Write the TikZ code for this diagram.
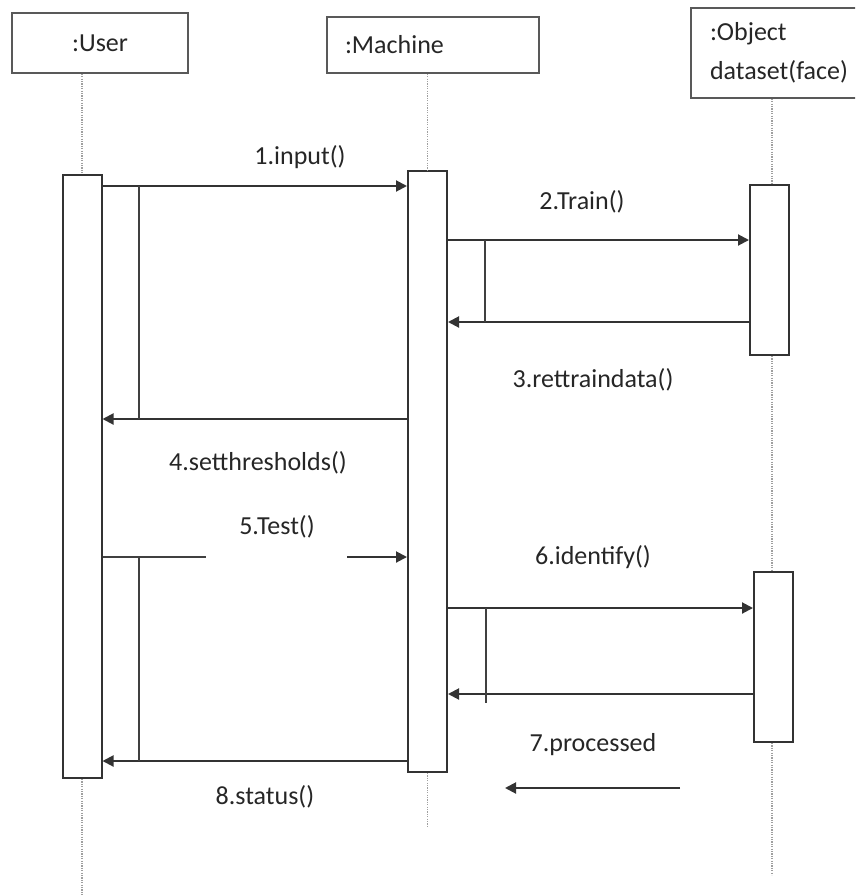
\documentclass[tikz,border=0pt]{standalone}
\usepackage{fontspec}
\setmainfont{Carlito}
\usetikzlibrary{arrows.meta}

\begin{document}
\begin{tikzpicture}[
        x=1pt, y=-1pt,
        head/.style={rectangle, draw=black!65, line width=1.6pt, inner sep=0pt, text=black!85, font=\fontsize{26}{39}\selectfont},
        act/.style={rectangle, draw=black!80, line width=2pt, fill=white, minimum width=39, inner sep=0pt},
        life/.style={draw=gray!75, line width=1.8pt, dash pattern=on 1.2pt off 1.2pt},
        msg/.style={draw=black!80, line width=2pt, -{Triangle[length=11pt, width=11pt]}},
        bar/.style={draw=black!75, line width=1.8pt},
        lbl/.style={inner sep=0pt, text=black!85, font=\fontsize{26}{39}\selectfont}
    ]
    \clip (0,0) rectangle (855,895);

    % Objects
    \node[head, minimum width=176, minimum height=60] (user) at (100,43) {:User};
    \node[head, text width=176, inner xsep=18, align=left, minimum height=56] (machine) at (433,45) {:Machine};
    \node[head, text width=141, inner xsep=19, align=left, minimum height=90] (object) at (780.5,53) {:Object\\dataset(face)};

    % Activations
    \node[act, minimum height=603] (uact) at (82,476.5) {};
    \node[act, minimum height=601] (mact) at (427.5,471.5) {};
    \node[act, minimum height=170] (oact1) at (769.5,270) {};
    \node[act, minimum height=170] (oact2) at (773.5,657) {};

    % Lifelines
    \draw[life] (user.south -| uact.center) -- (uact.north);
    \draw[life] (uact.south) -- (uact.center |- 0,895);
    \draw[life] (machine.south -| mact.center) -- (mact.north);
    \draw[life] (mact.south) -- (mact.center |- 0,828);
    \draw[life] (object.south -| 772,0) -- (oact1.north -| 772,0);
    \draw[life] (oact1.south -| 772,0) -- (oact2.north -| 772,0);
    \draw[life] (oact2.south -| 772,0) -- (772,875);

    % Free ends
    \coordinate (testcut1) at (206,557);
    \coordinate (testcut2) at (347,557);
    \coordinate (procstart) at (680,788);
    \coordinate (procend) at (505,788);

    % Messages
    \draw[msg] (uact.east |- 0,186) -- (mact.west |- 0,186);
    \draw[msg] (mact.east |- 0,240) -- (oact1.west |- 0,240);
    \draw[msg] (oact1.west |- 0,322) -- (mact.east |- 0,322);
    \draw[msg] (mact.west |- 0,419) -- (uact.east |- 0,419);
    \draw[bar] (uact.east |- 0,557) -- (testcut1);
    \draw[msg] (testcut2) -- (mact.west |- 0,557);
    \draw[msg] (mact.east |- 0,608) -- (oact2.west |- 0,608);
    \draw[msg] (oact2.west |- 0,694) -- (mact.east |- 0,694);
    \draw[msg] (procstart) -- (procend);
    \draw[msg] (mact.west |- 0,761) -- (uact.east |- 0,761);

    % Bars between call and reply
    \draw[bar] (139,186) -- (139,419);
    \draw[bar] (485,240) -- (485,322);
    \draw[bar] (139,557) -- (139,761);
    \draw[bar] (486,608) -- (486,703);

    % Labels
    \node[lbl] (l1) at (300,157) {1.input()};
    \node[lbl] (l2) at (582,202) {2.Train()};
    \node[lbl] (l3) at (593,380) {3.rettraindata()};
    \node[lbl] (l4) at (258,463) {4.setthresholds()};
    \node[lbl] (l5) at (277,527) {5.Test()};
    \node[lbl] (l6) at (593,557) {6.identify()};
    \node[lbl] (l7) at (593,745) {7.processed};
    \node[lbl] (l8) at (265,797) {8.status()};

\end{tikzpicture}
\end{document}
